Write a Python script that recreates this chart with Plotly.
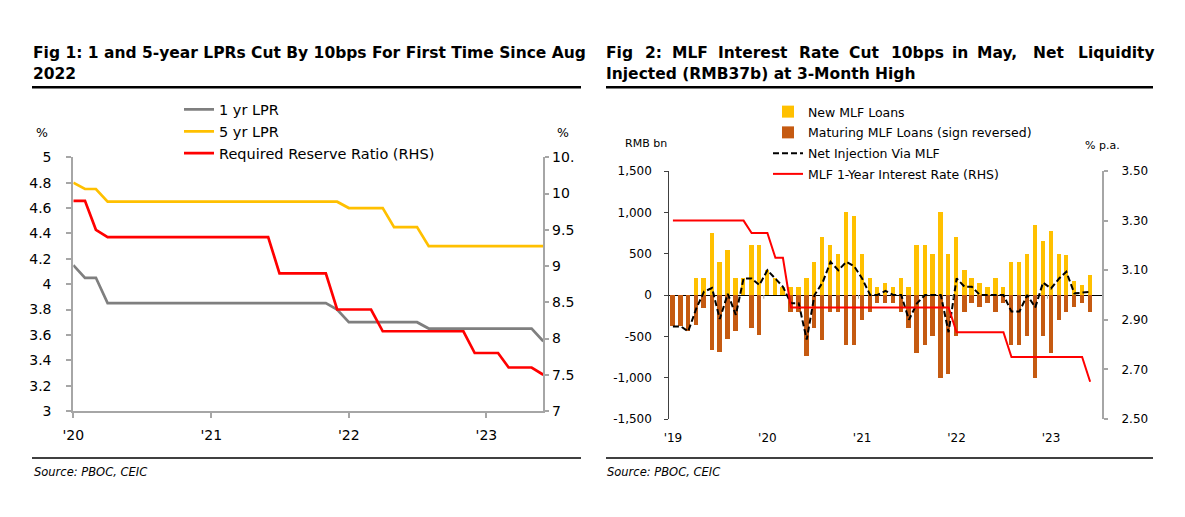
import plotly.graph_objects as go
import pandas as pd

# ---------------- Fig 1 data (monthly, Jan 2020 - Jun 2023) ----------------
fig1_months = pd.date_range("2020-01-01", "2023-06-01", freq="MS")
lpr_1y = [4.15, 4.05, 4.05, 3.85, 3.85, 3.85, 3.85, 3.85, 3.85, 3.85, 3.85, 3.85,
          3.85, 3.85, 3.85, 3.85, 3.85, 3.85, 3.85, 3.85, 3.85, 3.85, 3.85, 3.80,
          3.70, 3.70, 3.70, 3.70, 3.70, 3.70, 3.70, 3.65, 3.65, 3.65, 3.65, 3.65,
          3.65, 3.65, 3.65, 3.65, 3.65, 3.55]
lpr_5y = [4.80, 4.75, 4.75, 4.65, 4.65, 4.65, 4.65, 4.65, 4.65, 4.65, 4.65, 4.65,
          4.65, 4.65, 4.65, 4.65, 4.65, 4.65, 4.65, 4.65, 4.65, 4.65, 4.65, 4.65,
          4.60, 4.60, 4.60, 4.60, 4.45, 4.45, 4.45, 4.30, 4.30, 4.30, 4.30, 4.30,
          4.30, 4.30, 4.30, 4.30, 4.30, 4.30]
rrr = [9.9, 9.9, 9.5, 9.4, 9.4, 9.4, 9.4, 9.4, 9.4, 9.4, 9.4, 9.4,
       9.4, 9.4, 9.4, 9.4, 9.4, 9.4, 8.9, 8.9, 8.9, 8.9, 8.9, 8.4,
       8.4, 8.4, 8.4, 8.1, 8.1, 8.1, 8.1, 8.1, 8.1, 8.1, 8.1, 7.8,
       7.8, 7.8, 7.6, 7.6, 7.6, 7.5]
fig1_xticks = ["2020-01-01", "2021-01-01", "2022-01-01", "2023-01-01"]
fig1_xlabels = ["'20", "'21", "'22", "'23"]
fig1_ylticks = [3, 3.2, 3.4, 3.6, 3.8, 4, 4.2, 4.4, 4.6, 4.8, 5]
fig1_ylabels = ["3", "3.2", "3.4", "3.6", "3.8", "4", "4.2", "4.4", "4.6", "4.8", "5"]
fig1_yrticks = [7, 7.5, 8, 8.5, 9, 9.5, 10, 10.5]
fig1_yrlabels = ["7", "7.5", "8", "8.5", "9", "9.5", "10", "10."]

# ---------------- Fig 2 data (monthly, Jan 2019 - Jun 2023, RMB bn) ----------------
fig2_months = pd.date_range("2019-01-01", "2023-06-01", freq="MS") + pd.Timedelta(days=14)
new_mlf = [0, 0, 0, 200, 200, 745, 400, 550, 200, 200, 600, 600,
           300, 200, 100, 100, 100, 200, 400, 700, 600, 500, 1000, 950,
           500, 200, 100, 150, 100, 200, 100, 600, 600, 500, 1000, 500,
           700, 300, 200, 150, 100, 200, 100, 400, 400, 500, 850, 650,
           779, 499, 481, 170, 125, 237]
maturing_mlf = [-380, -380, -440, -365, -160, -660, -690, -535, -440, 0, -400, -480,
                0, 0, 0, -200, -200, -740, -400, -550, -200, -200, -600, -600,
                -300, -200, -100, -100, -100, -200, -400, -700, -600, -500, -1000, -950,
                -500, -200, -100, -150, -100, -200, -100, -600, -600, -500, -1000, -500,
                -700, -300, -200, -150, -100, -200]
net_injection = [-380, -380, -440, -165, 40, 85, -290, 15, -240, 200, 200, 120,
                 300, 200, 100, -100, -100, -540, 0, 150, 400, 300, 400, 350,
                 200, 0, 0, 50, 0, 0, -300, -100, 0, 0, 0, -450,
                 200, 100, 100, 0, 0, 0, 0, -200, -200, 0, -150, 150,
                 79, 199, 281, 20, 25, 37]
mlf_rate = [3.30, 3.30, 3.30, 3.30, 3.30, 3.30, 3.30, 3.30, 3.30, 3.30, 3.25, 3.25,
            3.25, 3.15, 3.15, 2.95, 2.95, 2.95, 2.95, 2.95, 2.95, 2.95, 2.95, 2.95,
            2.95, 2.95, 2.95, 2.95, 2.95, 2.95, 2.95, 2.95, 2.95, 2.95, 2.95, 2.95,
            2.85, 2.85, 2.85, 2.85, 2.85, 2.85, 2.85, 2.75, 2.75, 2.75, 2.75, 2.75,
            2.75, 2.75, 2.75, 2.75, 2.75, 2.65]
fig2_year_starts = ["2020-01-01", "2021-01-01", "2022-01-01", "2023-01-01"]
fig2_xticks = ["2019-01-15", "2020-01-15", "2021-01-15", "2022-01-15", "2023-01-15"]
fig2_xlabels = ["'19", "'20", "'21", "'22", "'23"]
fig2_ylticks = [-1500, -1000, -500, 0, 500, 1000, 1500]
fig2_ylabels = ["-1,500", "-1,000", "-500", "0", "500", "1,000", "1,500"]
fig2_yrticks = [2.5, 2.7, 2.9, 3.1, 3.3, 3.5]
fig2_yrlabels = ["2.50", "2.70", "2.90", "3.10", "3.30", "3.50"]

# ---------------- layout helpers (page coords -> paper coords; page body has 8px margin) ----------------
OX, OY = 8, 8
W, H = 1169, 501
FONT = "DejaVu Sans"
def px(x):
    return (x - OX) / W
def py(y):
    return 1 - (y - OY) / H

GRAY = "#7F7F7F"
YEL = "#FFC000"
ORG = "#C55A11"
RED = "#FF0000"
AX = "#A6A6A6"

fig = go.Figure()

# Fig 1 traces
fig.add_trace(go.Scatter(x=fig1_months, y=lpr_1y, name="1 yr LPR", mode="lines",
                         line=dict(color=GRAY, width=2.7), xaxis="x", yaxis="y",
                         legend="legend"))
fig.add_trace(go.Scatter(x=fig1_months, y=lpr_5y, name="5 yr LPR", mode="lines",
                         line=dict(color=YEL, width=2.7), xaxis="x", yaxis="y",
                         legend="legend"))
fig.add_trace(go.Scatter(x=fig1_months, y=rrr, name="Required Reserve Ratio (RHS)", mode="lines",
                         line=dict(color=RED, width=2.7), xaxis="x", yaxis="y2",
                         legend="legend"))

# Fig 2 traces
barw = 17 * 86400000
fig.add_trace(go.Bar(x=fig2_months, y=new_mlf, name="New MLF Loans", width=barw,
                     marker=dict(color=YEL, line=dict(width=0)), xaxis="x2", yaxis="y3",
                     legend="legend2", legendgroup="a"))
fig.add_trace(go.Bar(x=fig2_months, y=maturing_mlf, name="Maturing MLF Loans (sign reversed)",
                     width=barw, marker=dict(color=ORG, line=dict(width=0)),
                     xaxis="x2", yaxis="y3", legend="legend2", legendgroup="b"))
fig.add_trace(go.Scatter(x=fig2_months, y=net_injection, name="Net Injection Via MLF", mode="lines",
                         line=dict(color="black", width=2, dash="6px,3px"),
                         xaxis="x2", yaxis="y3", legend="legend2", legendgroup="c"))
fig.add_trace(go.Scatter(x=fig2_months, y=mlf_rate, name="MLF 1-Year Interest Rate (RHS)", mode="lines",
                         line=dict(color=RED, width=2), xaxis="x2", yaxis="y4",
                         legend="legend2", legendgroup="d"))

tick1 = dict(family=FONT, size=14, color="black")
tick2 = dict(family=FONT, size=12, color="black")

fig.update_layout(
    width=W, height=H, margin=dict(l=0, r=0, t=0, b=0, autoexpand=False),
    paper_bgcolor="white", plot_bgcolor="white",
    barmode="relative", bargap=0,
    font=dict(family=FONT, size=12, color="black"),
    xaxis=dict(domain=[px(73.3), px(543.3)], anchor="y", type="date", automargin=False,
               range=["2020-01-01", "2023-06-01"], tickvals=fig1_xticks, ticktext=fig1_xlabels,
               showline=True, linecolor=AX, linewidth=2, ticks="outside", ticklen=5,
               tickcolor=AX, tickwidth=2, showgrid=False, zeroline=False,
               tickfont=tick1, ticklabelstandoff=5),
    yaxis=dict(domain=[py(411), py(157.3)], anchor="x", range=[3, 5], automargin=False,
               tickvals=fig1_ylticks, ticktext=fig1_ylabels,
               showline=True, linecolor=AX, linewidth=2, ticks="outside", ticklen=5,
               tickcolor=AX, tickwidth=2, showgrid=False, zeroline=False,
               tickfont=tick1, ticklabelstandoff=12),
    yaxis2=dict(overlaying="y", side="right", anchor="x", range=[7, 10.5], automargin=False,
                tickvals=fig1_yrticks, ticktext=fig1_yrlabels,
                showline=True, linecolor=AX, linewidth=2, ticks="outside", ticklen=4,
                tickcolor=AX, tickwidth=2, showgrid=False, zeroline=False,
                tickfont=tick1, ticklabelstandoff=0),
    xaxis2=dict(domain=[px(669.3), px(1102.3)], anchor="y3", type="date", automargin=False,
                range=["2019-01-01", "2023-08-01"], tickvals=fig2_xticks, ticktext=fig2_xlabels,
                showline=False, ticks="", showgrid=False, zeroline=False,
                tickfont=tick2, ticklabelstandoff=10),
    yaxis3=dict(domain=[py(419), py(171)], anchor="x2", range=[-1500, 1500], automargin=False,
                tickvals=fig2_ylticks, ticktext=fig2_ylabels,
                showline=True, linecolor="#404040", linewidth=1, ticks="outside", ticklen=4,
                tickcolor="#404040", showgrid=False,
                zeroline=True, zerolinecolor="black", zerolinewidth=1,
                tickfont=tick2, ticklabelstandoff=10),
    yaxis4=dict(overlaying="y3", side="right", anchor="x2", range=[2.5, 3.5], automargin=False,
                tickvals=fig2_yrticks, ticktext=fig2_yrlabels,
                showline=True, linecolor=AX, linewidth=1.5, ticks="outside", ticklen=4,
                tickcolor=AX, tickwidth=1.5, showgrid=False, zeroline=False,
                tickfont=tick2, ticklabelstandoff=11),
    legend=dict(x=px(179), y=py(93.5), xanchor="left", yanchor="top",
                bgcolor="rgba(0,0,0,0)", borderwidth=0, itemwidth=30,
                font=dict(family=FONT, size=14.5, color="black"), tracegroupgap=0),
    legend2=dict(x=px(768), y=py(97), xanchor="left", yanchor="top",
                 bgcolor="rgba(0,0,0,0)", borderwidth=0, itemwidth=30,
                 font=dict(family=FONT, size=12.5, color="black"), tracegroupgap=1.5,
                 traceorder="grouped"),
)

# year tick marks on the zero line of Fig 2
for ys in fig2_year_starts:
    fig.add_shape(type="line", xref="x2", yref="y3", x0=ys, x1=ys, y0=0, y1=-45,
                  line=dict(color=AX, width=1))

# rules
fig.add_shape(type="line", xref="paper", yref="paper", x0=px(32), x1=px(581), y0=py(87.3), y1=py(87.3),
              line=dict(color="black", width=2.5))
fig.add_shape(type="line", xref="paper", yref="paper", x0=px(606), x1=px(1153), y0=py(87.3), y1=py(87.3),
              line=dict(color="black", width=2.5))
fig.add_shape(type="line", xref="paper", yref="paper", x0=px(32), x1=px(581), y0=py(458), y1=py(458),
              line=dict(color="black", width=1.3))
fig.add_shape(type="line", xref="paper", yref="paper", x0=px(606), x1=px(1153), y0=py(458), y1=py(458),
              line=dict(color="black", width=1.3))

def ann(text, x, y, size, xanchor="left", bold=False, italic=False, color="black"):
    t = text
    if bold:
        t = "<b>" + t + "</b>"
    if italic:
        t = "<i>" + t + "</i>"
    fig.add_annotation(text=t, x=px(x), y=py(y), xref="paper", yref="paper",
                       xanchor=xanchor, yanchor="middle", showarrow=False,
                       font=dict(family=FONT, size=size, color=color))

TS = 15.5
ann("Fig 1: 1 and 5-year LPRs Cut By 10bps For First Time Since Aug", 31, 53, TS, bold=True)
ann("2022", 31, 74, TS, bold=True)

title2_words = ["Fig", "2:", "MLF", "Interest", "Rate", "Cut", "10bps", "in", "May,", "Net", "Liquidity"]
title2_x = [604, 643, 670, 716, 797, 847, 889, 950, 975, 1031, 1076]
for w, xx in zip(title2_words, title2_x):
    ann(w, xx, 53, TS, bold=True)
ann("Injected (RMB37b) at 3-Month High", 604, 74, TS, bold=True)

ann("%", 42, 133, 12.5, xanchor="center")
ann("%", 563, 133, 12.5, xanchor="center")
ann("RMB bn", 646, 143, 11, xanchor="center")
ann("% p.a.", 1102, 145, 11, xanchor="center")

ann("Source: PBOC, CEIC", 32, 472, 11.5, italic=True)
ann("Source: PBOC, CEIC", 605, 472, 11.5, italic=True)

fig.write_html("out.html")
